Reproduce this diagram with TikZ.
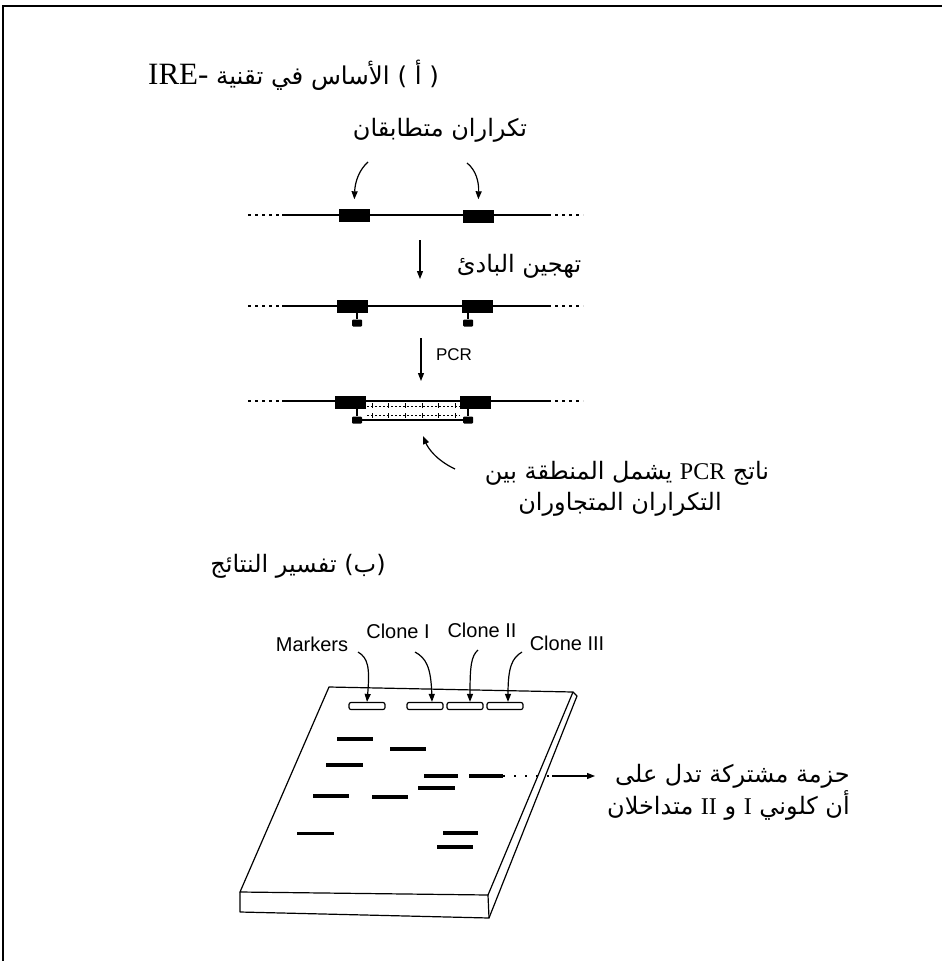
\documentclass[tikz,border=0pt]{standalone}
\usepackage{fontspec}
\setmainfont{Liberation Serif}
\setsansfont{Liberation Sans}
\newfontfamily\arfont[Script=Arabic]{DejaVu Sans}
\TeXXeTstate=1
\usetikzlibrary{arrows.meta}
\begin{document}
\begin{tikzpicture}[x=1pt,y=-1pt,
  ink/.style={line width=1.2pt},
  arr/.style={line width=1.2pt,-{Triangle[length=8pt,width=6pt]}},
  artext/.style={font=\arfont\fontsize{24}{28}\selectfont, inner sep=0pt},
  sanslab/.style={font=\sffamily\fontsize{20}{24}\selectfont, inner sep=0pt},
  repeatbox/.style={fill=black, minimum width=31pt, minimum height=13pt, inner sep=0pt},
  primer/.style={fill=black, minimum width=10pt, minimum height=7pt, inner sep=0pt, rounded corners=1pt},
  flank/.style={line width=1.2pt, dash pattern=on 3pt off 4pt},
  well/.style={draw, line width=1.2pt, rounded corners=2pt, minimum width=36pt, minimum height=7pt, inner sep=0pt},
  band/.style={line width=4pt},
  rung/.style={line width=0.9pt, dash pattern=on 2pt off 2pt},
]
\useasboundingbox (0,0) rectangle (942,961);

% frame lines (top and left)
\coordinate (fTL) at (3,6);
\coordinate (fTR) at (942,6);
\coordinate (fBL) at (3,961);
\draw[ink] (fTR) -- (fTL) -- (fBL);

% ---------- part (a) ----------
\node[inner sep=0pt, anchor=west] (titleA) at (148,75)
  {\fontsize{31}{34}\selectfont IRE-\ {\arfont\fontsize{24.5}{28}\selectfont\beginR (\char"00A0أ\char"00A0) الأساس في تقنية\endR}};

\node[artext] (repLab) at (440,130) {\beginR تكراران متطابقان\endR};

% first line: two identical repeats
\coordinate (l1a) at (248,215); \coordinate (l1b) at (282,215);
\coordinate (l1c) at (548,215); \coordinate (l1d) at (583,215);
\draw[flank] (l1a) -- (l1b);
\draw[ink] (l1b) -- (l1c);
\draw[flank] (l1c) -- (l1d);
\node[repeatbox] (r1a) at (354,215) {};
\node[repeatbox] (r1b) at (478,216) {};
\coordinate (a1s) at (368,162);
\coordinate (a2s) at (467,163);
\draw[arr, shorten >=9pt] (a1s) .. controls (359,170) and (355,182) .. (r1a.north);
\draw[arr, shorten >=10pt] (a2s) .. controls (476,170) and (479,182) .. (r1b.north);

% primer annealing
\coordinate (s1a) at (420,240); \coordinate (s1b) at (420,279);
\draw[arr] (s1a) -- (s1b);
\node[artext] (annLab) at (519,266) {\beginR تهجين البادئ\endR};

\coordinate (l2a) at (248,306); \coordinate (l2b) at (282,306);
\coordinate (l2c) at (548,306); \coordinate (l2d) at (583,306);
\draw[flank] (l2a) -- (l2b);
\draw[ink] (l2b) -- (l2c);
\draw[flank] (l2c) -- (l2d);
\node[repeatbox] (r2a) at (352,306) {};
\node[repeatbox] (r2b) at (477,306) {};
\node[primer] (p2a) at (357,323) {};
\node[primer] (p2b) at (468,323) {};
\draw[ink] (r2a.south -| p2a) -- (p2a);
\draw[ink] (r2b.south -| p2b) -- (p2b);

% PCR
\coordinate (s2a) at (421,338); \coordinate (s2b) at (421,381);
\draw[arr] (s2a) -- (s2b);
\node[sanslab, font=\sffamily\fontsize{17}{20}\selectfont] (pcrLab) at (454,355) {PCR};

\coordinate (l3a) at (248,401); \coordinate (l3b) at (282,401);
\coordinate (l3c) at (548,401); \coordinate (l3d) at (583,401);
\draw[flank] (l3a) -- (l3b);
\draw[ink] (l3b) -- (l3c);
\draw[flank] (l3c) -- (l3d);
\node[repeatbox] (r3a) at (350,402) {};
\node[repeatbox] (r3b) at (475,402) {};
\node[primer] (p3a) at (357,420) {};
\node[primer] (p3b) at (468,420) {};
\draw[ink] (r3a.south -| p3a) -- (p3a);
\draw[ink] (r3b.south -| p3b) -- (p3b);
\draw[ink] (p3a) -- (p3b);
% newly made strand between the repeats
\coordinate (d1a) at (367,406); \coordinate (d1b) at (460,406);
\coordinate (d2a) at (367,415); \coordinate (d2b) at (460,415);
\draw[rung] (d1a) -- (d1b);
\draw[rung] (d2a) -- (d2b);
\foreach \xx in {372,388,405,422,438,455}{
  \draw[line width=1pt] (\xx,403) -- (\xx,408);
  \draw[line width=1pt] (\xx,413) -- (\xx,418);
}

% label of the product
\coordinate (prS) at (455,469);
\draw[arr] (prS) .. controls (436,460) and (428,448) .. (423,436);
\node[artext] (prod1) at (627,473) {\beginR ناتج \beginL{\rmfamily PCR}\endL{} يشمل المنطقة بين\endR};
\node[artext] (prod2) at (620,504) {\beginR التكراران المتجاوران\endR};

% ---------- part (b) ----------
\node[artext] (titleB) at (298,566) {\beginR (ب) تفسير النتائج\endR};

\node[sanslab] (mk) at (312,644) {Markers};
\node[sanslab] (c1) at (398,631) {Clone I};
\node[sanslab] (c2) at (482,630) {Clone II};
\node[sanslab] (c3) at (567,643) {Clone III};

% gel slab
\coordinate (gTL) at (329,687);
\coordinate (gTR) at (573,692);
\coordinate (gBR) at (488,895);
\coordinate (gBL) at (240,892);
\coordinate (gBLd) at (240,912);
\coordinate (gBRd) at (489,918);
\coordinate (gTRs) at (577,696);
\draw[ink, line join=round] (gTL) -- (gTR) -- (gBR) -- (gBL) -- cycle;
\draw[ink, line join=round] (gBL) -- (gBLd) -- (gBRd) -- (gBR);
\draw[ink, line join=round] (gTR) -- (gTRs) -- (gBRd);

% sample wells
\node[well] (w1) at (367,706) {};
\node[well] (w2) at (425,706) {};
\node[well] (w3) at (465,706) {};
\node[well] (w4) at (505,706) {};

\draw[arr] (358,652) .. controls (368,658) and (370,667) .. (w1.north);
\draw[arr] (415,652) .. controls (426,658) and (431,667) .. (w2.north -| 432,0);
\draw[arr] (478,650) .. controls (471,656) and (470,667) .. (w3.north -| 470,0);
\draw[arr] (522,652) .. controls (512,658) and (508,667) .. (w4.north -| 508,0);

% bands
\draw[band] (337,739) -- (373,739);
\draw[band] (390,749) -- (426,749);
\draw[band] (326,765) -- (363,765);
\coordinate (sbA) at (424,776); \coordinate (sbB) at (458,776);
\coordinate (sbC) at (469,776); \coordinate (sbD) at (503,776);
\draw[band] (sbA) -- (sbB);
\draw[band] (sbC) -- (sbD);
\draw[band] (418,788) -- (455,788);
\draw[band] (313,796) -- (349,796);
\draw[band] (372,797) -- (408,797);
\draw[band, line width=3pt] (297,833) -- (334,833);
\draw[band] (443,833) -- (478,833);
\draw[band] (437,847) -- (473,847);

% shared band pointer
\coordinate (ptM) at (552,776);
\coordinate (ptE) at (595,776);
\draw[line width=1.2pt, dash pattern=on 2pt off 9pt] (sbD) -- (ptM);
\draw[arr] (ptM) -- (ptE);
\node[artext, anchor=east] (sh1) at (850,776) {\beginR حزمة مشتركة تدل على\endR};
\node[artext, anchor=east] (sh2) at (850,805) {\beginR أن كلوني \beginL{\rmfamily I}\endL{} و \beginL{\rmfamily II}\endL{} متداخلان\endR};
\end{tikzpicture}
\end{document}
